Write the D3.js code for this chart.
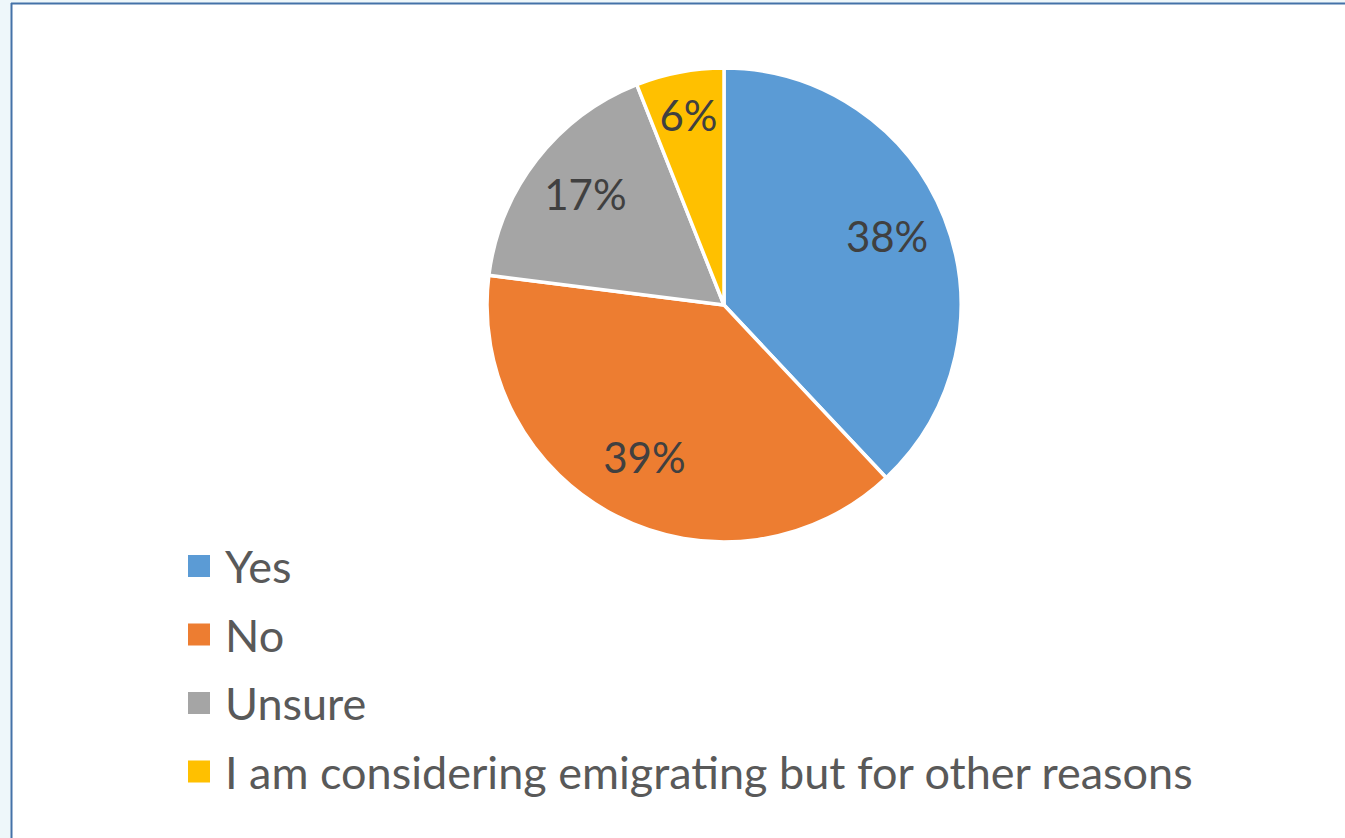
<!DOCTYPE html>
<html>
<head>
<meta charset="utf-8">
<script src="https://cdn.jsdelivr.net/npm/d3@7"></script>
<style>
  html, body { margin: 0; padding: 0; background: #eef7fa; }
  svg { display: block; }
</style>
</head>
<body>
<svg id="chart" width="1345" height="838"></svg>
<script>
// Survey answers and their shares (percent)
const categories = ["Yes", "No", "Unsure", "I am considering emigrating but for other reasons"];
const shares = [38, 39, 17, 6];
const colors = ["#5B9BD5", "#ED7D31", "#A5A5A5", "#FFC000"];

const W = 1345, H = 838;
const svg = d3.select("#chart");
const FONT = "Lato, 'Open Sans', 'DejaVu Sans', sans-serif";

// chart area with blue frame on top and left
svg.append("rect").attr("x", 12).attr("y", 4).attr("width", W).attr("height", H)
  .attr("fill", "#ffffff");
svg.append("line").attr("x1", 11.5).attr("x2", 11.5).attr("y1", 3).attr("y2", H)
  .attr("stroke", "#4472A8").attr("stroke-width", 2);
svg.append("line").attr("x1", 11).attr("x2", W).attr("y1", 3.5).attr("y2", 3.5)
  .attr("stroke", "#4472A8").attr("stroke-width", 2);

// pie
const cx = 724, cy = 305, R = 237;
const data = categories.map((c, i) => ({ name: c, value: shares[i], color: colors[i] }));
const pie = d3.pie().value(d => d.value).sort(null);
const arcs = pie(data);
const arc = d3.arc().innerRadius(0).outerRadius(R);

const g = svg.append("g").attr("transform", `translate(${cx},${cy})`);
g.selectAll("path.slice").data(arcs).join("path")
  .attr("class", "slice")
  .attr("d", arc)
  .attr("fill", d => d.data.color)
  .attr("stroke", "#ffffff")
  .attr("stroke-width", 3.5)
  .attr("stroke-linejoin", "round");

// data labels: small slices are pushed further out
const labelArc = d => {
  const r = d.data.value < 10 ? R * 0.8 : R * 0.74;
  return d3.arc().innerRadius(r).outerRadius(r);
};
g.selectAll("text.lbl").data(arcs).join("text")
  .attr("class", "lbl")
  .attr("transform", d => {
    const [x, y] = labelArc(d).centroid(d);
    return `translate(${x},${y - 4})`;
  })
  .attr("text-anchor", "middle")
  .attr("dominant-baseline", "central")
  .attr("font-family", FONT)
  .attr("font-size", 42)
  .attr("fill", "#404040")
  .text(d => d.data.value + "%");

// legend
const legendX = 188, legendY0 = 566, legendStep = 68.5, box = 22;
const lg = svg.append("g");
const items = lg.selectAll("g.item").data(data).join("g")
  .attr("class", "item")
  .attr("transform", (d, i) => `translate(${legendX},${legendY0 + i * legendStep})`);
items.append("rect")
  .attr("x", 0).attr("y", -box / 2).attr("width", box).attr("height", box)
  .attr("fill", d => d.color);
items.append("text")
  .attr("x", 37).attr("y", 0)
  .attr("dominant-baseline", "central")
  .attr("font-family", FONT)
  .attr("font-size", 45)
  .attr("fill", "#595959")
  .text(d => d.name);
</script>
</body>
</html>
